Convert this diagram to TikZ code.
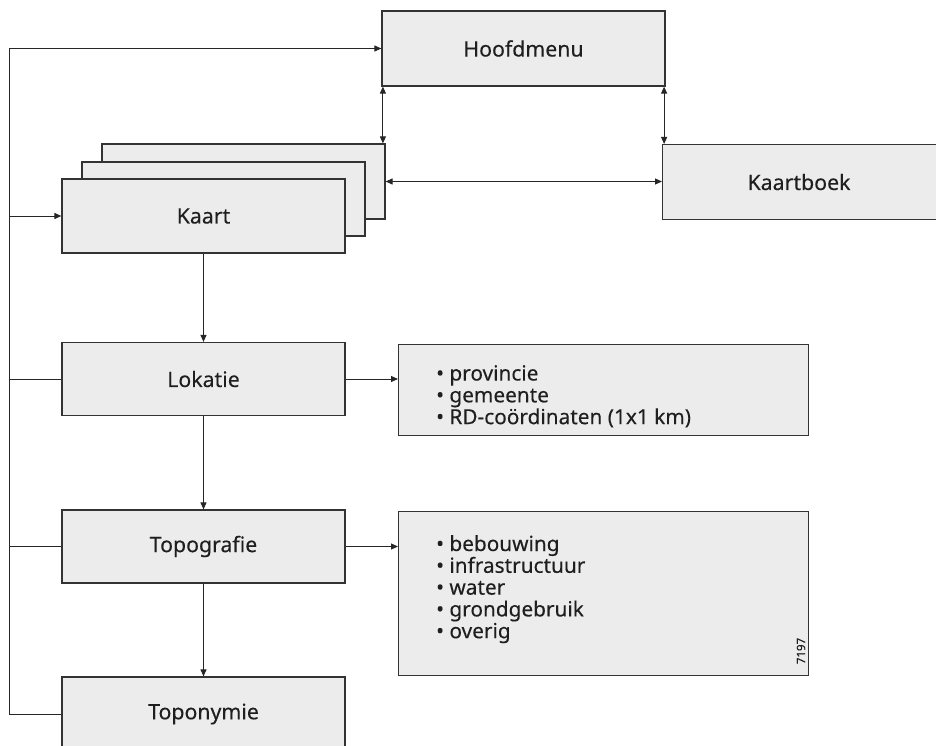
\documentclass[tikz,border=0pt]{standalone}
\usepackage{fontspec}
\setmainfont{Noto Sans}[FakeBold=0.2]
\usetikzlibrary{arrows.meta,positioning}

\definecolor{boxfill}{HTML}{ECECEC}
\definecolor{boxline}{HTML}{333333}
\definecolor{wire}{HTML}{262626}

\tikzset{
  panel/.style={draw=boxline, fill=boxfill, line width=1.2pt, rectangle,
    inner sep=0pt, font=\fontsize{21.3}{24}\selectfont, text=black!88},
  wirestyle/.style={draw=wire, line width=1pt},
  tip/.style={wirestyle, -{Triangle[length=7pt,width=6pt]}},
  tips/.style={wirestyle, {Triangle[length=7pt,width=6pt]}-{Triangle[length=7pt,width=6pt]}},
  listtext/.style={align=left, anchor=north west, inner sep=0pt, text=black!88,
    font=\fontsize{20.8}{21.8}\selectfont},
}

\begin{document}
\begin{tikzpicture}[x=1pt,y=-1pt]
  \clip (0,0) rectangle (936,746);

  % main menu
  \node[panel, minimum width=283pt, minimum height=75pt] (hoofd) at (523.5,48.5) {Hoofdmenu};

  % stacked map sheets, back to front
  \node[panel, minimum width=283pt, minimum height=75pt] (kaart3) at (243.5,181.5) {};
  \node[panel, minimum width=283pt, minimum height=74pt] (kaart2) at (223.5,199) {};
  \node[panel, minimum width=283pt, minimum height=74pt] (kaart) at (203.5,216) {Kaart};

  % map book, running off the right edge
  \node[panel, anchor=north west, minimum width=320pt, minimum height=75pt] (kaartboek) at (662,144) {};
  \node[font=\fontsize{21.3}{24}\selectfont, text=black!88] (kaartboektxt) at (799,182) {Kaartboek};

  % search steps
  \node[panel, minimum width=283pt, minimum height=73pt] (lokatie) at (203.5,379) {Lokatie};
  \node[panel, minimum width=283pt, minimum height=73pt] (topografie) at (203.5,546.5) {Topografie};
  \node[panel, minimum width=283pt, minimum height=74pt] (toponymie) at (203.5,714) {Toponymie};

  % option lists
  \node[panel, anchor=north west, minimum width=410pt, minimum height=91pt] (lijst1) at (398,344) {};
  \node[listtext] (lijst1txt) at (436,365)
    {\textbullet\ provincie\\\textbullet\ gemeente\\\textbullet\ RD-coördinaten (1x1 km)};
  \node[panel, anchor=north west, minimum width=410pt, minimum height=164pt] (lijst2) at (398,511) {};
  \node[listtext] (lijst2txt) at (436,535)
    {\textbullet\ bebouwing\\\textbullet\ infrastructuur\\\textbullet\ water\\\textbullet\ grondgebruik\\\textbullet\ overig};
  \node[rotate=90, font=\fontsize{11.5}{12}\selectfont, inner sep=0pt, text=black!88] (code) at (801,651) {7197};

  % return bus on the left
  \coordinate (bus) at (9,0);
  \draw[tip] (toponymie.west) -| (bus |- hoofd.west) -- (hoofd.west);
  \draw[tip] (bus |- kaart.west) -- (kaart.west);
  \draw[wirestyle] (bus |- lokatie.west) -- (lokatie.west);
  \draw[wirestyle] (bus |- topografie.west) -- (topografie.west);

  % links between menu, map and map book
  \draw[tips] ([xshift=1.5pt]hoofd.south west) -- ([xshift=1.5pt]hoofd.south west |- kaart3.north);
  \draw[tips] ([xshift=-1.5pt]hoofd.south east) -- ([xshift=-1.5pt]hoofd.south east |- kaartboek.north);
  \draw[tips] (kaart3.east) -- (kaart3.east -| kaartboek.west);

  % downward flow
  \draw[tip] (kaart.south) -- (lokatie.north);
  \draw[tip] (lokatie.south) -- (topografie.north);
  \draw[tip] (topografie.south) -- (toponymie.north);

  % to the option lists
  \draw[tip] (lokatie.east) -- (lokatie.east -| lijst1.west);
  \draw[tip] (topografie.east) -- (topografie.east -| lijst2.west);
\end{tikzpicture}
\end{document}
